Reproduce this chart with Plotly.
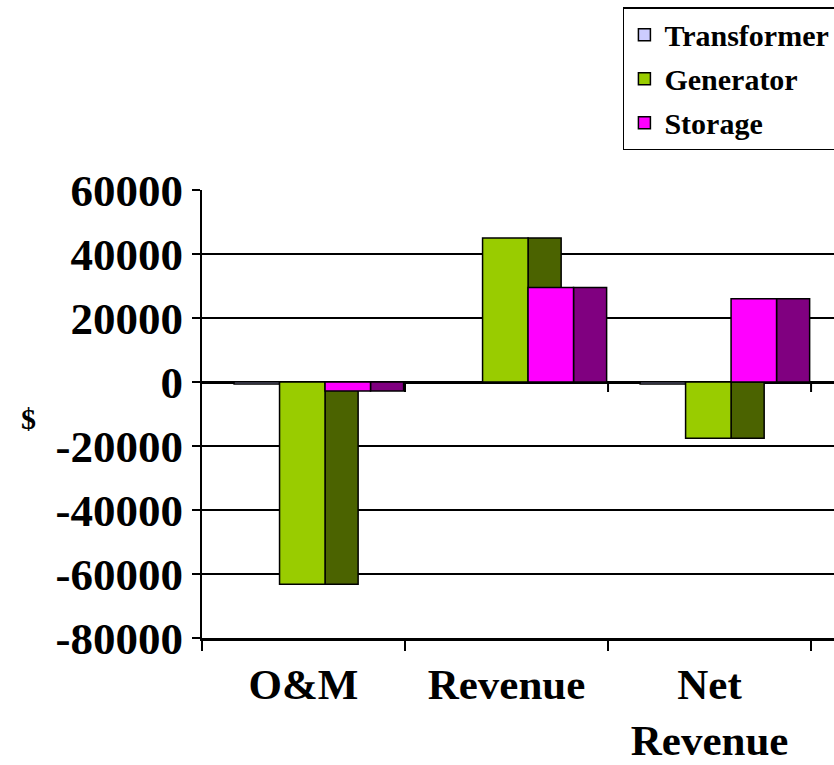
import plotly.graph_objects as go

categories = ["O&M", "Revenue", "Net<br>Revenue"]
series_names = ["Transformer", "Generator", "Storage"]
transformer = [-600, 0, -600]
generator = [-63200, 45000, -17600]
storage = [-2800, 29500, 26000]
y_ticks = [60000, 40000, 20000, 0, -20000, -40000, -60000, -80000]
y_tick_text = [str(v) for v in y_ticks]

front_colors = ["#CCCCFF", "#99CC00", "#FF00FF"]
side_colors = ["#66667F", "#4B6300", "#800080"]

FONT = "Times New Roman, Liberation Serif, serif"
front_w = 0.224      # width of each column face (category units)
side_w = 0.163       # visible depth of the column side
first_offset = -0.342
x_range = [-0.5, 2.613]
# category boundaries, where the zero line carries small tick marks
boundaries = [i + 0.5 for i in range(len(categories))]

fig = go.Figure()
values = [transformer, generator, storage]
for i, (name, vals) in enumerate(zip(series_names, values)):
    off = first_offset + i * front_w
    # shaded side face, drawn first so the next series' face covers it
    fig.add_trace(go.Bar(
        x=categories, y=vals, name=name + " side", showlegend=False,
        offset=off + front_w, width=side_w,
        marker=dict(color=side_colors[i], line=dict(color="black", width=1.5)),
        hoverinfo="skip",
    ))
    fig.add_trace(go.Bar(
        x=categories, y=vals, name=name, legendgroup=name,
        offset=off, width=front_w,
        marker=dict(color=front_colors[i], line=dict(color="black", width=1.5)),
    ))

# short tick marks hanging below the zero line at the category boundaries
for b in boundaries:
    fig.add_shape(
        type="line", xref="x", yref="y", x0=b, x1=b,
        ysizemode="pixel", yanchor=0, y0=0, y1=-10,
        line=dict(color="black", width=2), layer="above",
    )

fig.update_layout(
    width=834, height=765,
    barmode="overlay",
    plot_bgcolor="white", paper_bgcolor="white",
    margin=dict(l=202, r=0, t=190, b=127, autoexpand=False),
    font=dict(family=FONT, color="black"),
    showlegend=True,
    legend=dict(
        x=0.666, y=1.408, xanchor="left", yanchor="top",
        bordercolor="black", borderwidth=1.5, bgcolor="white",
        font=dict(family=FONT, size=30, weight="bold", color="black"),
        tracegroupgap=2, traceorder="grouped",
    ),
    xaxis=dict(
        type="category", range=x_range,
        tickson="boundaries", ticks="outside", ticklen=10, tickwidth=2,
        tickcolor="black",
        showline=True, linecolor="black", linewidth=3,
        showgrid=False, zeroline=False,
        tickfont=dict(family=FONT, size=43, weight="bold", color="black"),
        ticklabelstandoff=6,
    ),
    yaxis=dict(
        range=[-80000, 60000], tickvals=y_ticks, ticktext=y_tick_text,
        ticks="outside", ticklen=8, tickwidth=2, tickcolor="black",
        showline=True, linecolor="black", linewidth=2,
        showgrid=True, gridcolor="black", gridwidth=1.5,
        zeroline=True, zerolinecolor="black", zerolinewidth=3,
        tickfont=dict(family=FONT, size=45, weight="bold", color="black"),
    ),
    annotations=[dict(
        text="$", xref="paper", yref="paper", x=-0.29, y=0.491,
        showarrow=False, font=dict(family=FONT, size=30, weight="bold", color="black"),
    )],
)

fig.write_html("out.html")
